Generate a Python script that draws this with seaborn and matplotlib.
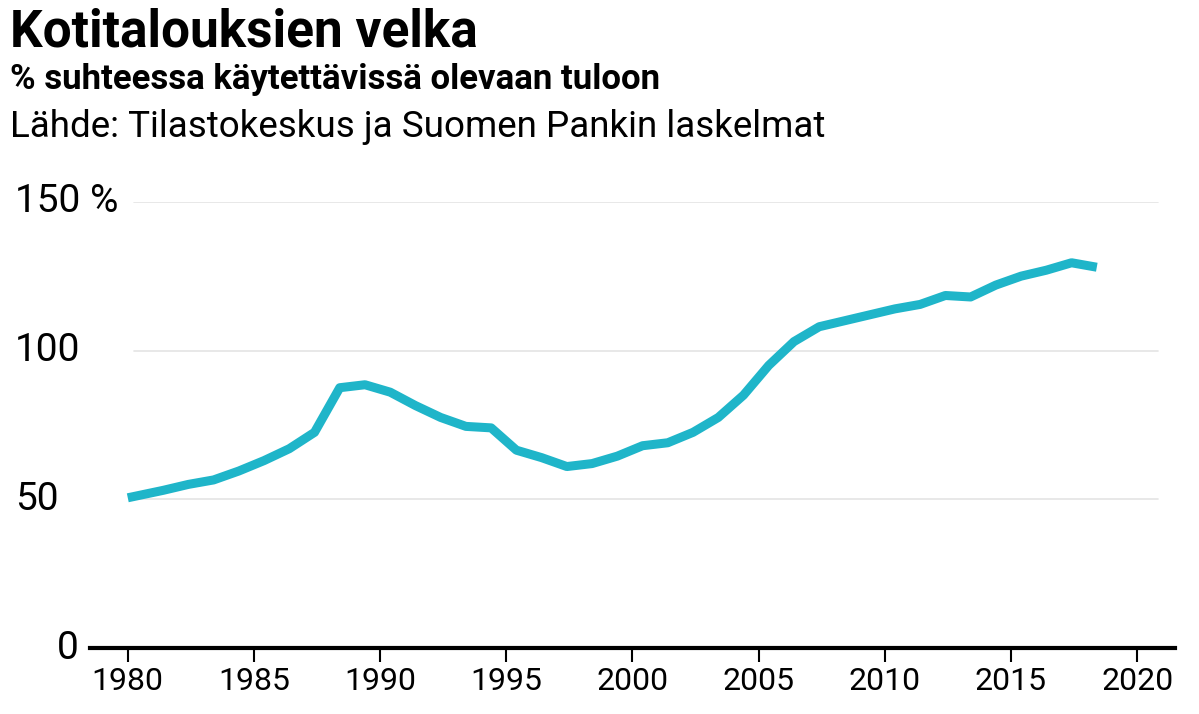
import matplotlib.pyplot as plt
import matplotlib.transforms as mtransforms
import seaborn as sns
import pandas as pd

years = list(range(1980, 2019))
debt = [50.5, 53, 55, 56.5, 59.5, 63, 67, 72.5, 87.5, 88.5,
        86, 81.5, 77.5, 74.5, 74, 66.5, 64, 61, 62, 64.5,
        68, 69, 72.5, 77.5, 85, 95, 103, 108, 110, 112,
        114, 115.5, 118.5, 118, 122, 125, 127, 129.5, 128]
y_ticks = [0, 50, 100, 150]
y_labels = ['0', '50', '100', '150 %']
x_ticks = list(range(1980, 2021, 5))

df = pd.DataFrame({'year': [y + 0.4 for y in years], 'debt': debt})
df.loc[0, 'year'] = 1980.0

fig = plt.figure(figsize=(11.99, 7.14), dpi=100)
ax = fig.add_axes([0.075, 0.0924, 0.905, 0.625])
sns.set_style("white")

for t in y_ticks[1:]:
    ax.axhline(t, xmin=0.041, xmax=0.984, color='#e4e4e4', lw=1.2, zorder=0)

sns.lineplot(x='year', y='debt', data=df, color='#1fb5c9', lw=6.5, ax=ax,
             solid_capstyle='butt')

ax.set_xlim(1978.5, 2021.5)
ax.set_ylim(0, 150)
for s in ['top', 'right', 'left']:
    ax.spines[s].set_visible(False)
ax.spines['bottom'].set_linewidth(3)
ax.set_yticks([])
ax.set_xticks(x_ticks)
ax.set_xticklabels([str(x) for x in x_ticks], fontsize=23, family='Roboto')
ax.tick_params(axis='x', length=10, width=1.5, pad=4, colors='black')
ax.set_xlabel('')
ax.set_ylabel('')

trans = mtransforms.blended_transform_factory(fig.transFigure, ax.transData)
for t, lab in zip(y_ticks, y_labels):
    x0 = 57 / 1199 if t == 0 else 15 / 1199
    ax.text(x0, t, lab, transform=trans, ha='left', va='center',
            fontsize=28, family='Roboto', color='black')

fig.text(0.008, 0.955, 'Kotitalouksien velka', fontsize=37, weight='bold',
         family='Roboto', va='center', color='black')
fig.text(0.008, 0.888, '% suhteessa käytettävissä olevaan tuloon', fontsize=25,
         weight='bold', family='Roboto', va='center', color='black')
fig.text(0.008, 0.822, 'Lähde: Tilastokeskus ja Suomen Pankin laskelmat',
         fontsize=26.5, family='Roboto', va='center', color='black')

plt.savefig('out.png', dpi=100)
